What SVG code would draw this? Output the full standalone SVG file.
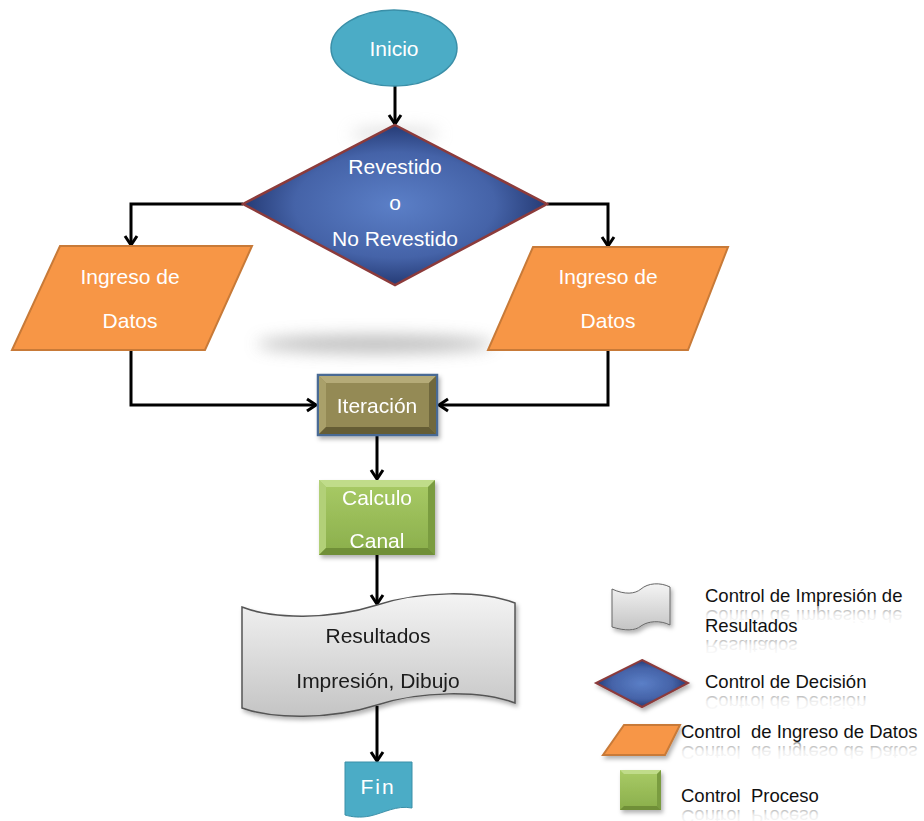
<svg xmlns="http://www.w3.org/2000/svg" width="924" height="821" viewBox="0 0 924 821">
<defs>
  <style>
    .lbl{font-family:"Liberation Sans","DejaVu Sans",sans-serif;font-size:21px;fill:#ffffff;text-anchor:middle}
    .dark{fill:#1a1a1a}
    .leg{font-family:"Liberation Sans","Open Sans",sans-serif;font-size:18.5px;fill:#111111}
    .refl{fill:url(#reflGrad)}
    .conn{fill:none;stroke:#000000;stroke-width:3;stroke-linejoin:miter}
  </style>
  <marker id="arr" markerWidth="16" markerHeight="16" refX="13" refY="8" orient="auto" markerUnits="userSpaceOnUse">
    <path d="M4,2 L13,8 L4,14" fill="none" stroke="#000" stroke-width="3"/>
  </marker>
  <radialGradient id="diaGrad" cx="50%" cy="50%" r="55%">
    <stop offset="0" stop-color="#5b7fc7"/>
    <stop offset="0.6" stop-color="#4563a8"/>
    <stop offset="1" stop-color="#1c2f66"/>
  </radialGradient>
  <linearGradient id="docGrad" x1="0" y1="0" x2="0" y2="1">
    <stop offset="0" stop-color="#f4f4f4"/>
    <stop offset="1" stop-color="#c4c4c4"/>
  </linearGradient>
  <linearGradient id="greenGrad" x1="0" y1="0" x2="0" y2="1">
    <stop offset="0" stop-color="#a9cb66"/>
    <stop offset="1" stop-color="#8aae4b"/>
  </linearGradient>
  <linearGradient id="reflGrad" x1="0" y1="0" x2="0" y2="1">
    <stop offset="0" stop-color="#888" stop-opacity="0"/>
    <stop offset="0.55" stop-color="#888" stop-opacity="0.15"/>
    <stop offset="1" stop-color="#666" stop-opacity="0.7"/>
  </linearGradient>
  <filter id="blur" x="-30%" y="-200%" width="160%" height="500%">
    <feGaussianBlur stdDeviation="8"/>
  </filter>
  <filter id="ds" x="-20%" y="-20%" width="150%" height="160%">
    <feDropShadow dx="2" dy="3" stdDeviation="2" flood-color="#000" flood-opacity="0.3"/>
  </filter>
</defs>
<rect width="924" height="821" fill="#ffffff"/>

<!-- shadow beneath decision -->
<ellipse cx="375" cy="344" rx="118" ry="9" fill="#a8a8a8" opacity="0.75" filter="url(#blur)"/>
<ellipse cx="395" cy="134" rx="45" ry="6" fill="#bbbbbb" opacity="0.5" filter="url(#blur)"/>

<g id="connectors">
  <path class="conn" d="M395,86 L395,124" marker-end="url(#arr)"/>
  <path class="conn" d="M243,204 L131,204 L131,245" marker-end="url(#arr)"/>
  <path class="conn" d="M547,204 L608,204 L608,246" marker-end="url(#arr)"/>
  <path class="conn" d="M131,350 L131,405 L316,405" marker-end="url(#arr)"/>
  <path class="conn" d="M608,350 L608,405 L439,405" marker-end="url(#arr)"/>
  <path class="conn" d="M377,435 L377,479" marker-end="url(#arr)"/>
  <path class="conn" d="M377,555 L377,604" marker-end="url(#arr)"/>
  <path class="conn" d="M377,706 L377,761" marker-end="url(#arr)"/>
</g>

<g id="inicio">
  <ellipse cx="394" cy="48" rx="63" ry="38" fill="#4bacc6" stroke="#3a8fa8" stroke-width="1.5"/>
  <text class="lbl" x="394" y="56" font-size="25">Inicio</text>
</g>

<g id="decision">
  <polygon points="395,125 547,204 395,285 243,204" fill="url(#diaGrad)" stroke="#8c3b3b" stroke-width="2.5"/>
  <text class="lbl" x="395" y="174">Revestido</text>
  <text class="lbl" x="395" y="210">o</text>
  <text class="lbl" x="395" y="246">No Revestido</text>
</g>

<g id="ingreso-izq">
  <polygon points="60,246 252,246 205,350 12,350" fill="#f79646" stroke="#c87a38" stroke-width="2"/>
  <text class="lbl" x="130" y="284" font-size="24">Ingreso de</text>
  <text class="lbl" x="130" y="328" font-size="24">Datos</text>
</g>

<g id="ingreso-der">
  <polygon points="533,247 728,247 688,350 488,350" fill="#f79646" stroke="#c87a38" stroke-width="2"/>
  <text class="lbl" x="608" y="284" font-size="24">Ingreso de</text>
  <text class="lbl" x="608" y="328" font-size="24">Datos</text>
</g>

<g id="iteracion" filter="url(#ds)">
  <rect x="318" y="375" width="119" height="60" fill="#948a54" stroke="#4a6a94" stroke-width="2.5"/>
  <polygon points="319,376 436,376 429,383 326,383" fill="#b5ab78"/>
  <polygon points="319,376 326,383 326,427 319,434" fill="#a9a06b"/>
  <polygon points="436,376 436,434 429,427 429,383" fill="#6f673c"/>
  <polygon points="319,434 326,427 429,427 436,434" fill="#655d35"/>
  <text class="lbl" x="377" y="413" font-size="23">Iteración</text>
</g>

<g id="calculo" filter="url(#ds)">
  <rect x="319" y="480" width="116" height="75" fill="url(#greenGrad)"/>
  <polygon points="319,480 435,480 428,487 326,487" fill="#c0dc8a"/>
  <polygon points="319,480 326,487 326,548 319,555" fill="#b2d078"/>
  <polygon points="435,480 435,555 428,548 428,487" fill="#7a9c40"/>
  <polygon points="319,555 326,548 428,548 435,555" fill="#6f8f38"/>
  <text class="lbl" x="377" y="505" font-size="25">Calculo</text>
  <text class="lbl" x="377" y="548" font-size="25">Canal</text>
</g>

<g id="resultados" filter="url(#ds)">
  <path d="M242,607 C272,619 330,620 377,605 C420,591 480,590 515,603 L515,703 C480,690 420,691 377,705 C330,720 272,719 242,708 Z" fill="url(#docGrad)" stroke="#555555" stroke-width="1.5"/>
  <text class="lbl dark" x="378" y="643" font-size="24">Resultados</text>
  <text class="lbl dark" x="378" y="688" font-size="24">Impresión, Dibujo</text>
</g>

<g id="fin">
  <path d="M345,762 L412,762 L412,808 C396,805 384,813 370,816 C360,818 352,817 345,815 Z" fill="#4bacc6" stroke="#3a8fa8" stroke-width="1"/>
  <text class="lbl" x="378" y="794" font-size="24" letter-spacing="2">Fin</text>
</g>

<g id="leyenda-impresion">
  <path d="M612,589 C625,595 635,594 641,589 C648,583 660,582 670,587 L670,625 C660,620 648,621 641,626 C635,631 625,631 612,627 Z" fill="url(#docGrad)" stroke="#666" stroke-width="1" filter="url(#ds)"/>
  <text class="leg" x="705" y="602">Control de Impresión de</text>
  <text class="leg" x="705" y="632">Resultados</text>
  <g transform="translate(0,1212) scale(1,-1)"><text class="leg refl" x="705" y="602">Control de Impresión de</text></g>
  <g transform="translate(0,1272) scale(1,-1)"><text class="leg refl" x="705" y="632">Resultados</text></g>
</g>

<g id="leyenda-decision">
  <polygon points="642,660 688,683 642,707 596,683" fill="url(#diaGrad)" stroke="#8c3b3b" stroke-width="2" filter="url(#ds)"/>
  <text class="leg" x="705" y="688">Control de Decisión</text>
  <g transform="translate(0,1384) scale(1,-1)"><text class="leg refl" x="705" y="688">Control de Decisión</text></g>
</g>

<g id="leyenda-ingreso">
  <polygon points="624,725 680,725 665,755 603,755" fill="#f79646" stroke="#c87a38" stroke-width="2" filter="url(#ds)"/>
  <text class="leg" x="681" y="738" xml:space="preserve">Control  de Ingreso de Datos</text>
  <g transform="translate(0,1484) scale(1,-1)"><text class="leg refl" x="681" y="738" xml:space="preserve">Control  de Ingreso de Datos</text></g>
</g>

<g id="leyenda-proceso">
  <g filter="url(#ds)">
    <rect x="620" y="770" width="41" height="40" fill="url(#greenGrad)"/>
    <polygon points="620,770 661,770 657,774 624,774" fill="#c0dc8a"/>
    <polygon points="661,770 661,810 657,806 657,774" fill="#7a9c40"/>
    <polygon points="620,810 624,806 657,806 661,810" fill="#6f8f38"/>
  </g>
  <text class="leg" x="681" y="802" xml:space="preserve">Control  Proceso</text>
  <g transform="translate(0,1612) scale(1,-1)"><text class="leg refl" x="681" y="802" xml:space="preserve">Control  Proceso</text></g>
</g>
</svg>
